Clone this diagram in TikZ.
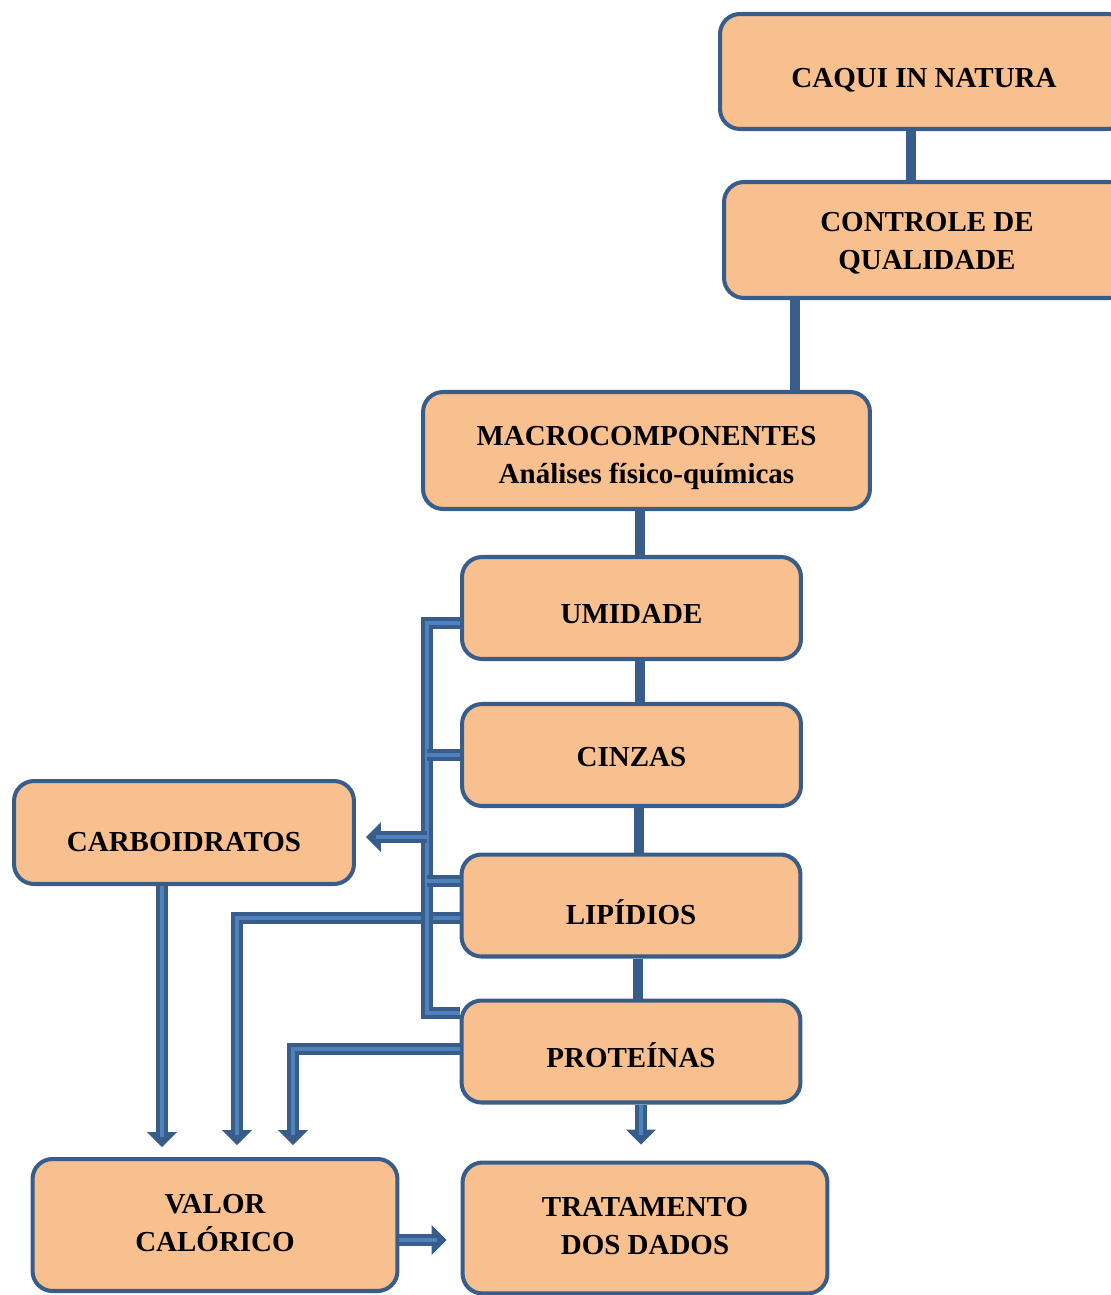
\documentclass[tikz,border=0pt]{standalone}
\usepackage{fontspec}
\setmainfont{Liberation Serif}
\usepackage{tikz}
\usetikzlibrary{arrows.meta}
\definecolor{box orange}{rgb}{0.9765, 0.7529, 0.5608}
\definecolor{box blue}{rgb}{0.2196, 0.3647, 0.5412}
\definecolor{pipe light}{rgb}{0.3098, 0.5059, 0.7412}

\begin{document}
\begin{tikzpicture}[x=0.02cm, y=-0.02cm,
		stage/.style={draw=box blue, line width=2.3pt, fill=box orange, rounded corners=0.4cm,
			align=center, font=\bfseries\fontsize{16.5}{21.5}\selectfont,
			minimum width=6.78cm, minimum height=2.04cm, inner sep=0pt, text depth=0pt},
		link/.style={draw=box blue, line width=5.7pt},
		pipe/.style={draw=box blue, line width=6.8pt,
			postaction={draw=pipe light, line width=2pt, arrows=-}},
		pipearrow/.style={draw=box blue, line width=6.8pt, shorten >=#1,
			-{Triangle[width=0.6cm, length=0.3cm, line width=0pt]},
			postaction={draw=pipe light, line width=2pt, arrows=-, shorten >=#1+0.2cm}},
		pipearrow/.default=0cm]
			\useasboundingbox (0,0) rectangle (1111,1295);
			% boxes
			\node[stage, minimum width=8.16cm, minimum height=2.30cm, text height=0.66cm] (caqui) at (924,71.5) {CAQUI IN NATURA};
			\node[stage, minimum width=8.12cm, minimum height=2.32cm, text height=1.19cm] (controle) at (927,240) {CONTROLE DE\\QUALIDADE};
			\node[stage, minimum width=8.94cm, minimum height=2.34cm, text height=1.33cm] (macro) at (646.5,450.5) {MACROCOMPONENTES\\Análises físico-químicas};
			\node[stage, text height=0.60cm] (umidade) at (631.5,608) {UMIDADE};
			\node[stage, text height=0.44cm] (cinzas) at (631.5,755) {CINZAS};
			\node[stage, text height=0.74cm] (lipidios) at (631,905.5) {LIPÍDIOS};
			\node[stage, text height=0.62cm] (proteinas) at (631,1051.5) {PROTEÍNAS};
			\node[stage, minimum width=6.80cm, minimum height=2.06cm, text height=0.74cm] (carbo) at (184,832.5) {CARBOIDRATOS};
			\node[stage, minimum width=7.30cm, minimum height=2.64cm, text height=1.06cm] (valor) at (215,1225) {VALOR\\CALÓRICO};
			\node[stage, minimum width=7.30cm, minimum height=2.62cm, text height=1.06cm] (tratamento) at (645,1228) {TRATAMENTO\\DOS DADOS};
			% straight links
			\draw[link] ([xshift=-0.26cm]caqui.south) -- ([xshift=-0.26cm]caqui.south |- controle.north);
			\draw[link] ([xshift=-2.64cm]controle.south) -- ([xshift=-2.64cm]controle.south |- macro.north);
			\draw[link] ([xshift=-0.13cm]macro.south) -- ([xshift=-0.13cm]macro.south |- umidade.north);
			\draw[link] ([xshift=0.17cm]umidade.south) -- ([xshift=0.17cm]umidade.south |- cinzas.north);
			\draw[link] ([xshift=0.15cm]cinzas.south) -- ([xshift=0.15cm]cinzas.south |- lipidios.north);
			\draw[link] ([xshift=0.14cm]lipidios.south) -- ([xshift=0.14cm]lipidios.south |- proteinas.north);
			% arrows into valor calorico
			\coordinate (lipbend) at (237,918);
			\coordinate (protbend) at (293,1049);
			\draw[pipearrow=0.24cm] (lipidios.west |- lipbend) -- (lipbend) -- (lipbend |- valor.north);
			\draw[pipearrow=0.24cm] (proteinas.west |- protbend) -- (protbend) -- (protbend |- valor.north);
			\draw[pipearrow=0.2cm] ([xshift=-0.44cm]carbo.south) -- ([xshift=-0.44cm]carbo.south |- valor.north);
			% bus on the left
			\coordinate (bustop) at (427,623);
			\coordinate (busmid) at (427,837);
			\coordinate (busbot) at (427,1013);
			\draw[pipe] (umidade.west |- bustop) -| (busbot) -- (proteinas.west |- busbot);
			\draw[pipe] (cinzas.west) -- (cinzas.west -| bustop);
			\draw[pipe] ([yshift=0.49cm]lipidios.west) -- ([yshift=0.49cm]lipidios.west -| bustop);
			\draw[pipearrow=0.2cm] (busmid) -- (busmid -| carbo.east);
			% last steps
			\draw[pipearrow=0.32cm] ([xshift=0.2cm]proteinas.south) -- ([xshift=0.2cm]proteinas.south |- tratamento.north);
			\draw[pipearrow=0.28cm] ([yshift=-0.3cm]valor.east) -- ([yshift=-0.3cm]valor.east -| tratamento.west);
		\end{tikzpicture}
\end{document}
